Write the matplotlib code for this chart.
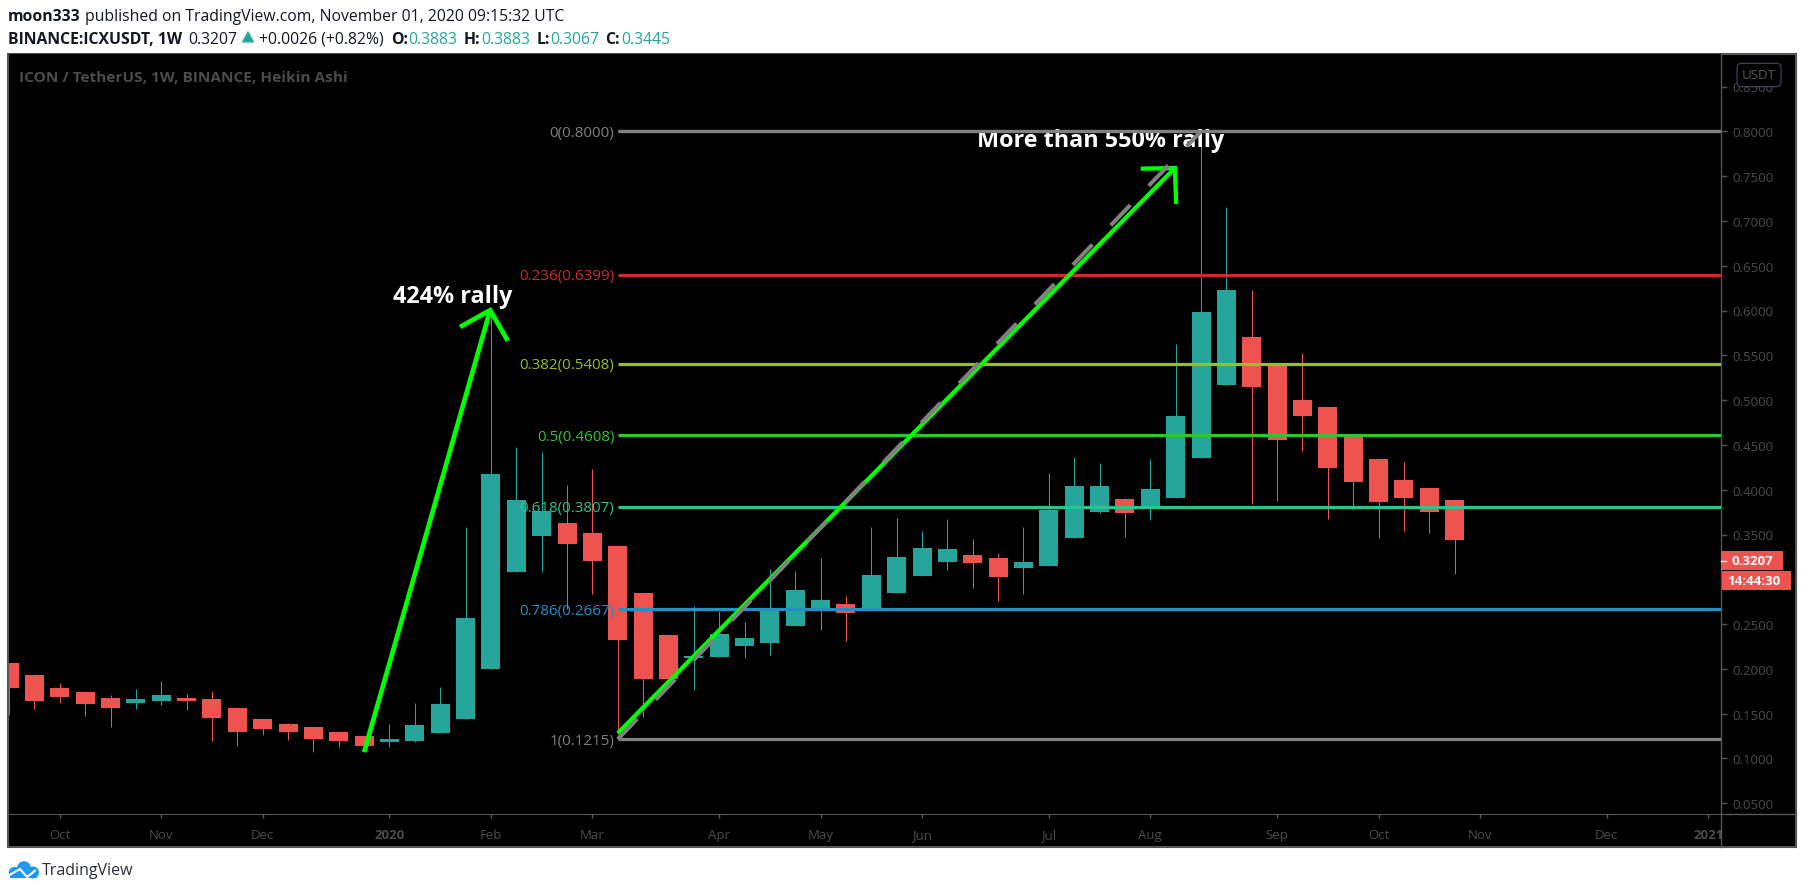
#!/usr/bin/env python
import matplotlib
matplotlib.use('Agg')
import matplotlib.pyplot as plt
from matplotlib.patches import Rectangle, FancyBboxPatch, Polygon, Circle
from matplotlib.lines import Line2D

W, H = 1805, 895
TEAL = '#26a69a'
RED = '#ef5350'
GRID = '#555555'
DIM = '#4b4b4b'
UI_FONT = 'Open Sans'

# weekly Heikin Ashi candles (body top, body bottom, wick high, wick low)
body_top = [0.2066, 0.1932, 0.1787, 0.1742, 0.1675, 0.1668, 0.1709, 0.1675, 0.1664, 0.1564,
            0.1441, 0.1385, 0.1352, 0.1296, 0.1251, 0.1218, 0.1374, 0.1608, 0.2568, 0.4175,
            0.3885, 0.3762, 0.3628, 0.3517, 0.3372, 0.2847, 0.2379, 0.2140, 0.2390, 0.2345,
            0.2669, 0.2881, 0.2769, 0.2725, 0.3048, 0.3249, 0.3349, 0.3338, 0.3271, 0.3238,
            0.3193, 0.3774, 0.4042, 0.4042, 0.3896, 0.4008, 0.4823, 0.5983, 0.6229, 0.5704,
            0.5411, 0.5001, 0.4923, 0.4603, 0.4343, 0.4108, 0.4019, 0.3885]
body_bot = [0.1787, 0.1642, 0.1686, 0.1608, 0.1564, 0.1619, 0.1642, 0.1642, 0.1452, 0.1296,
            0.1329, 0.1296, 0.1218, 0.1195, 0.1140, 0.1184, 0.1195, 0.1285, 0.1441, 0.1999,
            0.3082, 0.3483, 0.3394, 0.3204, 0.2323, 0.1887, 0.1887, 0.2126, 0.2133, 0.2256,
            0.2289, 0.2479, 0.2650, 0.2624, 0.2669, 0.2847, 0.3037, 0.3193, 0.3182, 0.3026,
            0.3126, 0.3149, 0.3461, 0.3751, 0.3740, 0.3785, 0.3908, 0.4354, 0.5169, 0.5146,
            0.4555, 0.4823, 0.4242, 0.4086, 0.3863, 0.3908, 0.3751, 0.3439]
wick_hi = [0.2066, 0.1932, 0.1843, 0.1742, 0.1709, 0.1776, 0.1865, 0.1720, 0.1753, 0.1564,
           0.1441, 0.1396, 0.1352, 0.1296, 0.1251, 0.1385, 0.1619, 0.1798, 0.3584, 0.6000,
           0.4476, 0.4421, 0.4053, 0.4231, 0.3372, 0.2847, 0.2379, 0.2702, 0.2650, 0.2524,
           0.3115, 0.3093, 0.3238, 0.2814, 0.3584, 0.3684, 0.3539, 0.3673, 0.3450, 0.3294,
           0.3584, 0.4187, 0.4365, 0.4298, 0.3908, 0.4343, 0.5626, 0.8000, 0.7155, 0.6229,
           0.5411, 0.5526, 0.4923, 0.4603, 0.4343, 0.4309, 0.4019, 0.3885]
wick_lo = [0.1486, 0.1552, 0.1619, 0.1474, 0.1352, 0.1552, 0.1597, 0.1541, 0.1195, 0.1140,
           0.1262, 0.1206, 0.1073, 0.1129, 0.1069, 0.1129, 0.1184, 0.1285, 0.1441, 0.1999,
           0.3082, 0.3082, 0.2669, 0.2836, 0.1274, 0.1463, 0.1887, 0.1765, 0.2133, 0.2122,
           0.2155, 0.2479, 0.2434, 0.2312, 0.2669, 0.2847, 0.3037, 0.3104, 0.2903, 0.2758,
           0.2836, 0.3149, 0.3461, 0.3740, 0.3472, 0.3662, 0.3908, 0.4354, 0.5169, 0.3841,
           0.3875, 0.4432, 0.3673, 0.3774, 0.3461, 0.3539, 0.3517, 0.3059]
is_up = [0, 0, 0, 0, 0, 1, 1, 0, 0, 0, 0, 0, 0, 0, 0, 1, 1, 1, 1, 1,
         1, 1, 0, 0, 0, 0, 0, 1, 1, 1, 1, 1, 1, 0, 1, 1, 1, 1, 0, 0,
         1, 1, 1, 1, 0, 1, 1, 1, 1, 0, 0, 0, 0, 0, 0, 0, 0, 0]

# fibonacci retracement
fib_ratio = ['0', '0.236', '0.382', '0.5', '0.618', '0.786', '1']
fib_price = [0.8000, 0.6399, 0.5408, 0.4608, 0.3807, 0.2667, 0.1215]
fib_color = ['#808080', '#d12a2e', '#98c11e', '#2dc62d', '#2ac48f', '#2090c8', '#808080']
fib_start = 24.0

# axis labels
month_pos = [2, 6, 10, 15, 19, 23, 28, 32, 36, 41, 45, 50, 54, 58, 63, 67]
month_lab = ['Oct', 'Nov', 'Dec', '2020', 'Feb', 'Mar', 'Apr', 'May', 'Jun', 'Jul', 'Aug', 'Sep',
             'Oct', 'Nov', 'Dec', '2021']
# 0.30 sits under the countdown tag in the chart, so it is left out
price_ticks = [0.05, 0.10, 0.15, 0.20, 0.25, 0.35, 0.40, 0.45, 0.50, 0.55, 0.60, 0.65, 0.70,
               0.75, 0.80, 0.85]
last_price = 0.3207

# drawings: (candle index, price)
rally1 = [(14.0, 0.1072), (18.97, 0.6004)]
rally1_head = [(17.78, 0.5816), (18.97, 0.6004), (19.66, 0.5663)]
rally2 = [(24.0, 0.1281), (45.97, 0.7590)]
rally2_head = [(44.62, 0.7583), (45.97, 0.7590), (46.02, 0.7189)]
fib_trend = [(24.0, 0.1215), (47.0, 0.8000)]


def fx(px):
    return px / W


def fy(py):
    return 1 - py / H


fig = plt.figure(figsize=(W / 100, H / 100), dpi=100, facecolor='white')

# black panel behind both chart parts
fig.patches.append(Rectangle((fx(8), fy(848)), fx(1788), 793 / H, transform=fig.transFigure,
                             facecolor='black', edgecolor=GRID, lw=1.5, zorder=-1))

ax = fig.add_axes([fx(9), fy(815), fx(1712), 760 / H], facecolor='black')
ax.set_xlim((9 - 9.1) / 25.36, (1721 - 9.1) / 25.36)
ax.set_ylim(0.8 - (815 - 132.3) / 896, 0.8 + (132.3 - 55) / 896)

for i in range(len(body_top)):
    col = TEAL if is_up[i] else RED
    ax.plot([i, i], [wick_lo[i], wick_hi[i]], color=col, lw=0.75, solid_capstyle='butt', zorder=2)
    ax.bar(i, max(body_top[i] - body_bot[i], 0.002), bottom=body_bot[i], width=19 / 25.36,
           color=col, lw=0, zorder=2.5)

for ratio, price, col in zip(fib_ratio, fib_price, fib_color):
    ax.plot([fib_start, ax.get_xlim()[1]], [price, price], color=col, lw=2.3,
            solid_capstyle='butt', zorder=3)
    ax.text(fib_start - 0.13, price - 0.001, '%s(%.4f)' % (ratio, price), color=col, ha='right',
            va='center', fontsize=10.9, family=UI_FONT, zorder=3.5)

# hand drawn arrows and the trend line of the fib tool
for pts, lw in [(rally1, 3.4), (rally1_head, 3.4), (rally2, 3.1), (rally2_head, 3.1)]:
    xs, ys = zip(*pts)
    ax.plot(xs, ys, color='#00ff00', lw=lw, solid_capstyle='butt', solid_joinstyle='miter', zorder=4)

ax.text(15.15, 0.6095, '424% rally', color='white', fontsize=16.8, fontweight='bold',
        family=UI_FONT, ha='left', va='baseline', zorder=5)
ax.text(38.15, 0.7832, 'More than 550% rally', color='white', fontsize=16.8, fontweight='bold',
        family=UI_FONT, ha='left', va='baseline', zorder=3.2)
ax.plot([fib_start, ax.get_xlim()[1]], [0.8, 0.8], color='#808080', lw=2.3, solid_capstyle='butt', zorder=3.4)

xs, ys = zip(*fib_trend)
ax.add_line(Line2D(xs, ys, color='#808080', lw=2.9, dashes=(7, 6.6), dash_capstyle='butt', zorder=4.5))

ax.yaxis.tick_right()
ax.set_yticks(price_ticks)
ax.set_yticklabels(['%.4f' % p for p in price_ticks], family=UI_FONT, fontsize=9.5)
ax.tick_params(axis='y', length=4.3, width=1, color=GRID, labelcolor=DIM, pad=3.6)
ax.set_xticks([])
for side in ['left', 'top', 'bottom']:
    ax.spines[side].set_visible(False)
ax.spines['right'].set_color(GRID)
ax.spines['right'].set_linewidth(1)

# time scale
ax_t = fig.add_axes([fx(9), fy(848), fx(1712), 33 / H], facecolor='none')
ax_t.set_xlim(ax.get_xlim())
ax_t.set_yticks([])
ax_t.set_xticks(month_pos)
ax_t.xaxis.tick_top()
ax_t.tick_params(axis='x', direction='in', length=3, width=1, color=GRID, labelcolor='none')
for side in ['left', 'right', 'bottom']:
    ax_t.spines[side].set_visible(False)
ax_t.spines['top'].set_color(GRID)
for pos, lab in zip(month_pos, month_lab):
    year = lab.isdigit()
    ax_t.text(pos, 0.39, lab, ha='center', va='center', family=UI_FONT, fontsize=9.5,
              fontweight='bold' if year else 'normal', color=DIM, clip_on=True)

# line continuing under the price scale, and the scale's own frame
fig.add_artist(Line2D([fx(1721), fx(1796)], [fy(815), fy(815)], color=GRID, lw=1))
fig.add_artist(Line2D([fx(1721), fx(1721)], [fy(815), fy(848)], color=GRID, lw=1))

# price scale labels
fig.patches.append(Rectangle((fx(1721), fy(571)), fx(62), 19 / H, transform=fig.transFigure,
                             facecolor=RED, lw=0, zorder=6))
fig.patches.append(Rectangle((fx(1722), fy(591)), fx(69), 19 / H, transform=fig.transFigure,
                             facecolor=RED, lw=0, zorder=6))
fig.add_artist(Line2D([fx(1721), fx(1726)], [fy(561.5), fy(561.5)], color='white', lw=1, zorder=7))
fig.text(fx(1732), fy(561.5), '%.4f' % last_price, color='white', fontsize=9.5, fontweight='bold',
         family=UI_FONT, va='center', ha='left', zorder=7)
fig.text(fx(1727), fy(581.5), '14:44:30', color='white', fontsize=9.5, fontweight='bold',
         family=UI_FONT, va='center', ha='left', zorder=7)

fig.patches.append(FancyBboxPatch((fx(1737), fy(87.7)), fx(44), 23.4 / H, transform=fig.transFigure,
                                  boxstyle='round,pad=0,rounding_size=0.0025',
                                  mutation_aspect=W / H, facecolor='black', edgecolor='#363c4e',
                                  lw=1, zorder=6))
fig.text(fx(1759), fy(75.5), 'USDT', color='#5a5a5a', fontsize=9.5, family=UI_FONT, ha='center',
         va='center', zorder=7)

fig.text(fx(19), fy(77.5), 'ICON / TetherUS, 1W, BINANCE, Heikin Ashi', color=DIM, fontsize=11.1,
         fontweight='bold', family=UI_FONT, ha='left', va='center')

# header above the chart
HEAD = '#131722'
header = [
    (8, 17, 'moon333', 'bold', HEAD),
    (84.8, 17, 'published on TradingView.com, November 01, 2020 09:15:32 UTC', 'normal', HEAD),
    (8, 40, 'BINANCE:ICXUSDT, 1W', 'bold', HEAD),
    (188, 40, '0.3207', 'normal', HEAD),
    (259, 40, '+0.0026 (+0.82%)', 'normal', HEAD),
    (391.5, 40, 'O:', 'bold', HEAD),
    (408.5, 40, '0.3883', 'normal', TEAL),
    (464, 40, 'H:', 'bold', HEAD),
    (481, 40, '0.3883', 'normal', TEAL),
    (536.6, 40, 'L:', 'bold', HEAD),
    (550, 40, '0.3067', 'normal', TEAL),
    (605, 40, 'C:', 'bold', HEAD),
    (621.4, 40, '0.3445', 'normal', TEAL),
]
for px, py, txt, weight, col in header:
    fig.text(fx(px), fy(py), txt, fontsize=11.3, fontweight=weight, color=col, family=UI_FONT,
             ha='left', va='center')
fig.patches.append(Polygon([(fx(241.5), fy(43.5)), (fx(254.5), fy(43.5)), (fx(248), fy(32))],
                           transform=fig.transFigure, facecolor=TEAL, lw=0))

# logo
LOGO = '#2196f3'
logo = fig.add_axes([fx(8), fy(881), fx(32), 20 / H])
logo.set_xlim(8, 40)
logo.set_ylim(881, 861)
logo.axis('off')
for cx, cy, r in [(14.5, 873.5, 5.7), (24, 869.2, 7), (33, 873.5, 6)]:
    logo.add_patch(Circle((cx, cy), r, facecolor=LOGO, lw=0))
logo.add_patch(Rectangle((10, 872), 27, 7.2, facecolor=LOGO, lw=0))
logo.plot([8.3, 20, 27, 35], [876.7, 870, 878, 871.7], color='white', lw=1.5, zorder=3)
fig.text(fx(42.3), fy(871.5), 'TradingView', fontsize=11.5, color='#2a2e39', family=UI_FONT, ha='left',
         va='center')

fig.savefig('out.png', dpi=100)
